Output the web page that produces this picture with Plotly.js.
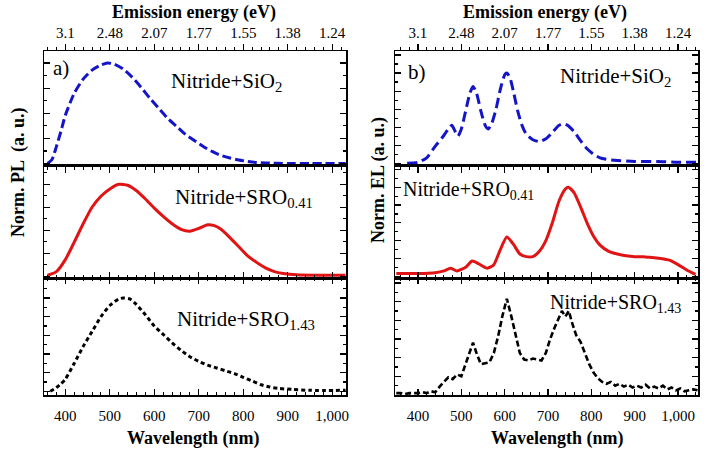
<!DOCTYPE html>
<html><head><meta charset="utf-8">
<script src="https://cdn.plot.ly/plotly-3.0.1.min.js"></script>
<style>body{margin:0;background:#fff}#c{width:720px;height:455px}</style>
</head><body><div id="c"></div>
<script>
// ---- data: (a) photoluminescence ----
const plSiO2Wl = [360,370,380,390,400,420,440,460,480,495,510,530,550,570,590,610,630,650,670,690,710,730,750,770,790,810,830,850,900,950,1030];
const plSiO2I  = [0,0.04,0.17,0.32,0.48,0.70,0.84,0.93,0.98,1.0,0.99,0.94,0.86,0.76,0.65,0.55,0.45,0.37,0.29,0.23,0.17,0.12,0.08,0.055,0.035,0.02,0.01,0.005,0,0,0];
const plSRO041Wl = [360,380,400,420,440,460,480,500,520,540,560,580,600,620,640,660,680,700,720,735,750,770,790,810,830,850,870,890,920,960,1030];
const plSRO041I  = [0.01,0.05,0.18,0.37,0.57,0.75,0.87,0.95,1.0,0.99,0.93,0.84,0.74,0.65,0.57,0.51,0.49,0.52,0.56,0.55,0.51,0.42,0.32,0.22,0.15,0.09,0.05,0.03,0.015,0.01,0.01];
const plSRO143Wl = [366,380,390,400,420,440,460,480,500,520,530,545,560,580,600,620,640,660,680,700,720,740,760,780,800,820,840,860,880,910,950,1030];
const plSRO143I  = [0,0.04,0.08,0.13,0.30,0.48,0.64,0.80,0.92,0.99,1.0,0.99,0.93,0.82,0.70,0.61,0.52,0.44,0.37,0.32,0.28,0.25,0.22,0.19,0.15,0.11,0.07,0.045,0.03,0.02,0.01,0.01];
// ---- data: (b) electroluminescence ----
const elSiO2Wl = [375,400,420,440,460,470,478,485,492,500,510,520,527,535,545,555,562,570,580,590,600,605,612,620,630,640,650,665,680,695,710,725,735,745,760,775,790,805,820,840,860,900,950,1000,1046];
const elSiO2I  = [0,0.01,0.06,0.19,0.31,0.38,0.42,0.36,0.30,0.38,0.58,0.78,0.85,0.78,0.58,0.42,0.38,0.44,0.60,0.82,0.98,1.0,0.95,0.80,0.58,0.42,0.32,0.26,0.24,0.27,0.34,0.42,0.44,0.42,0.35,0.25,0.16,0.10,0.06,0.04,0.03,0.02,0.02,0.01,0.01];
const elSRO041Wl = [350,400,440,460,475,490,510,525,540,560,575,590,605,620,635,650,665,680,695,710,725,740,747,760,775,790,805,820,840,860,880,900,920,940,960,980,1000,1020,1040];
const elSRO041I  = [0.03,0.03,0.04,0.06,0.09,0.06,0.10,0.17,0.14,0.09,0.13,0.30,0.44,0.36,0.25,0.22,0.22,0.28,0.40,0.60,0.84,0.98,1.0,0.94,0.78,0.60,0.45,0.35,0.28,0.25,0.23,0.22,0.22,0.21,0.20,0.18,0.13,0.07,0.02];
const elSRO143Wl = [350,360,370,380,390,400,410,420,430,440,450,460,470,480,490,500,510,520,527,535,545,555,565,575,585,595,605,615,625,635,645,655,665,675,685,695,705,715,725,732,740,748,755,765,775,785,795,805,815,825,835,845,855,865,875,885,895,905,915,925,935,945,955,965,975,985,995,1005,1015,1025,1035,1045];
const elSRO143I  = [0.02,0.02,0.01,0.02,0.02,0.02,0.03,0.02,0.04,0.03,0.09,0.14,0.19,0.17,0.22,0.20,0.33,0.48,0.56,0.45,0.33,0.34,0.35,0.45,0.63,0.85,1.03,0.85,0.66,0.45,0.38,0.37,0.39,0.38,0.37,0.45,0.60,0.72,0.83,0.90,0.84,0.90,0.78,0.64,0.57,0.45,0.33,0.24,0.18,0.14,0.12,0.14,0.10,0.12,0.09,0.11,0.08,0.10,0.08,0.11,0.07,0.09,0.07,0.10,0.06,0.08,0.05,0.07,0.04,0.05,0.06,0.05];
// ---- tick labels ----
const wlTicks = [400,500,600,700,800,900,1000];
const wlLabels = ['400','500','600','700','800','900','1,000'];
const eLabels = ['3.1','2.48','2.07','1.77','1.55','1.38','1.24'];
const panelNames = ['Nitride+SiO<sub>2</sub>','Nitride+SRO<sub>0.41</sub>','Nitride+SRO<sub>1.43</sub>'];

// ---- layout helpers ----
const L=44, R=22, T=51, B=60, PW=720-L-R, PH=455-T-B;
const px = x => (x-L)/PW, py = y => (395-y)/PH;
const FONT = 'Liberation Serif';
const leftDom=[0, px(346)], rightDom=[px(395), 1];
const rows=[[py(165),1],[py(278),py(165)],[0,py(278)]];
const frame = {showline:true, linecolor:'#000', linewidth:1.5, mirror:'allticks', showgrid:false, zeroline:false, tickcolor:'#000'};

function xax(dom, anchor, range, kind){
  const a = Object.assign({}, frame, {domain:dom, anchor:anchor, range:range, tickmode:'array', tickvals:wlTicks, ticklen:6, tickwidth:1.2,
    minor:{tickmode:'linear', tick0:0, dtick:20, ticklen:3, tickwidth:1, tickcolor:'#000'},
    tickfont:{family:FONT, size:15, color:'#000'}});
  if(kind==='top'){ a.side='top'; a.ticks='outside'; a.minor.ticks='outside'; a.ticktext=eLabels; a.showticklabels=true; }
  else if(kind==='bottom'){ a.side='bottom'; a.ticks='inside'; a.minor.ticks='inside'; a.ticktext=wlLabels; a.showticklabels=true; a.ticklabelstandoff=6; }
  else { a.ticks='inside'; a.minor.ticks='inside'; a.showticklabels=false; }
  return a;
}
function yax(dom, anchor, range, dt){
  return Object.assign({}, frame, {domain:dom, anchor:anchor, range:range, showticklabels:false, ticks:'inside', tick0:0, dtick:dt, ticklen:6, tickwidth:1.2,
    minor:{tick0:0, dtick:dt/2, ticks:'inside', ticklen:3, tickcolor:'#000'}});
}
const xrL=[352,1031], xrR=[347,1046];
const layout = {
  width:720, height:455, margin:{l:L,r:R,t:T,b:B}, paper_bgcolor:'#fff', plot_bgcolor:'#fff', showlegend:false,
  font:{family:FONT, color:'#000'},
  xaxis: xax(leftDom,'y',xrL,'top'), xaxis2: xax(leftDom,'y2',xrL,'mid'), xaxis3: xax(leftDom,'y3',xrL,'bottom'),
  xaxis4: xax(rightDom,'y4',xrR,'top'), xaxis5: xax(rightDom,'y5',xrR,'mid'), xaxis6: xax(rightDom,'y6',xrR,'bottom'),
  yaxis: yax(rows[0],'x',[-0.015,1.12],0.25), yaxis2: yax(rows[1],'x2',[-0.02,1.21],0.25), yaxis3: yax(rows[2],'x3',[-0.04,1.215],0.2),
  yaxis4: yax(rows[0],'x4',[-0.02,1.245],0.2), yaxis5: yax(rows[1],'x5',[-0.02,1.25],0.2), yaxis6: yax(rows[2],'x6',[0,1.2526],0.2),
  annotations: []
};
function ann(text,x,y,size,bold,angle){
  layout.annotations.push({xref:'paper',yref:'paper',x:px(x),y:py(y),xanchor:'center',yanchor:'middle',showarrow:false,
    text: bold?'<b>'+text+'</b>':text, textangle:angle||0, font:{family:FONT,size:size,color:'#000'}});
}
ann('Emission energy (eV)',194,12,18,true);
ann('Emission energy (eV)',545,12,18,true);
ann('Wavelength (nm)',193,438,18,true);
ann('Wavelength (nm)',557,438,18,true);
ann('Norm. PL  (a. u.)',18,172,18,true,-90);
ann('Norm. EL (a. u.)',378,180,18,true,-90);
ann('a)',61,68,21,false);
ann('b)',417,72,21,false);
ann(panelNames[0],226,82,21,false);
ann(panelNames[1],244,198,21,false);
ann(panelNames[2],246,320,21,false);
ann(panelNames[0],615,77,21,false);
ann(panelNames[1],468,190,20,false);
ann(panelNames[2],615,303,20,false);

const BLUE='#1414c8', RED='#e01414', BLK='#000';
function tr(x,y,xa,ya,color,dash,w){
  return {x:x,y:y,xaxis:xa,yaxis:ya,type:'scatter',mode:'lines',line:{color:color,width:w||3,dash:dash,shape:'spline',smoothing:0.6},hoverinfo:'skip'};
}
const data = [
  tr(plSiO2Wl,plSiO2I,'x','y',BLUE,'9px,4px'),
  tr(plSRO041Wl,plSRO041I,'x2','y2',RED,'solid'),
  tr(plSRO143Wl,plSRO143I,'x3','y3',BLK,'4px,3px'),
  tr(elSiO2Wl,elSiO2I,'x4','y4',BLUE,'10px,5px'),
  tr(elSRO041Wl,elSRO041I,'x5','y5',RED,'solid'),
  tr(elSRO143Wl,elSRO143I,'x6','y6',BLK,'6px,3px',2.6)
];
data[5].line.shape='linear';
Plotly.newPlot('c', data, layout, {staticPlot:true, displayModeBar:false});
</script></body></html>
